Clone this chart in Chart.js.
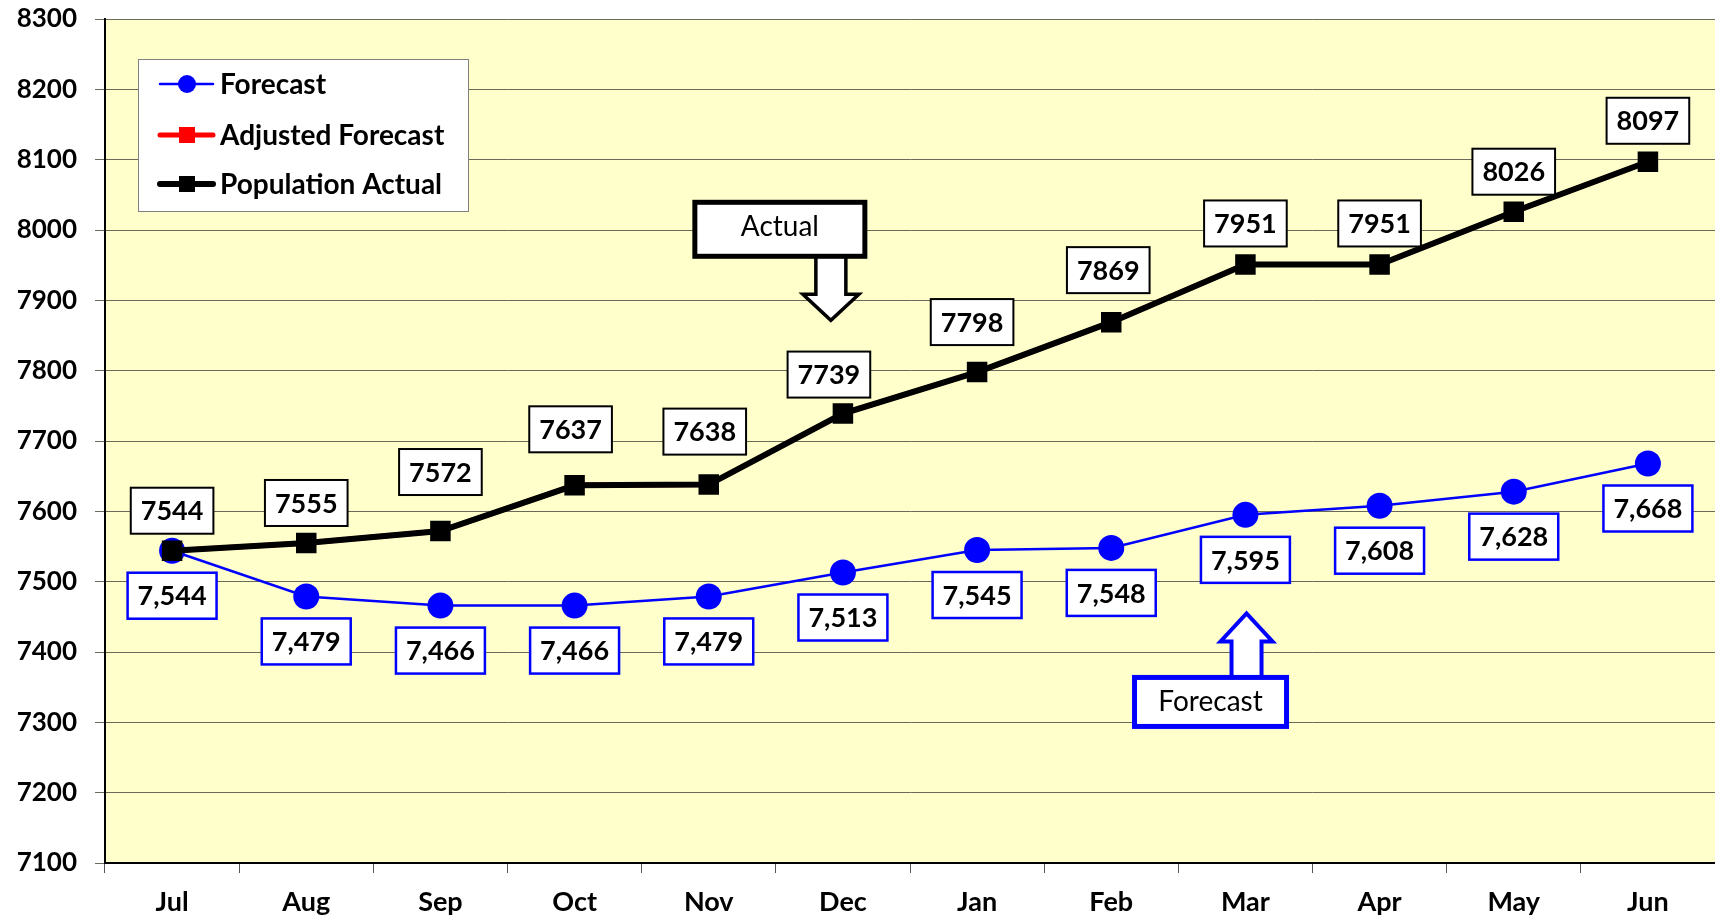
<!DOCTYPE html>
<html>
<head>
<meta charset="utf-8">
<script src="https://cdn.jsdelivr.net/npm/chart.js@4.4.1/dist/chart.umd.min.js"></script>
<style>
  html, body { margin: 0; padding: 0; background: #ffffff; }
  #wrap { width: 1715px; height: 922px; }
</style>
</head>
<body>
<div id="wrap"><canvas id="c" width="1715" height="922"></canvas></div>
<script>
const months = ['Jul', 'Aug', 'Sep', 'Oct', 'Nov', 'Dec', 'Jan', 'Feb', 'Mar', 'Apr', 'May', 'Jun'];
const forecast = [7544, 7479, 7466, 7466, 7479, 7513, 7545, 7548, 7595, 7608, 7628, 7668];
const adjustedForecast = [7544, 7555, 7572, 7637, 7638, 7739, 7798, 7869, 7951, 7951, 8026, 8097];
const populationActual = [7544, 7555, 7572, 7637, 7638, 7739, 7798, 7869, 7951, 7951, 8026, 8097];
const yMin = 7100;
const yMax = 8300;
const yStep = 100;

const FONT = 'Lato, "Open Sans", "DejaVu Sans", sans-serif';

// label placement (pixels relative to point) for actual labels
const actualLabelDy = [-40, -40, -59, -56, -53, -39, -50, -52, -41, -41, -40, -41];
const actualLabelDx = [0, 0, 0, -4, -4, -14, -5, -3, 0, 0, 0, 0];
const forecastLabelDy = 45;

function roundBox(ctx, cx, cy, w, h, stroke, lw) {
  ctx.save();
  ctx.fillStyle = '#ffffff';
  ctx.fillRect(cx - w / 2, cy - h / 2, w, h);
  ctx.lineWidth = lw;
  ctx.strokeStyle = stroke;
  ctx.strokeRect(cx - w / 2, cy - h / 2, w, h);
  ctx.restore();
}

const decor = {
  id: 'decor',
  beforeDraw(chart) {
    const { ctx, chartArea: a } = chart;
    ctx.save();
    ctx.fillStyle = '#FFFFCC';
    ctx.fillRect(a.left, a.top, a.right - a.left, a.bottom - a.top);
    ctx.restore();
  },
  afterDatasetsDraw(chart) {
    const { ctx, chartArea: a, scales } = chart;
    const xs = scales.x, ys = scales.y;

    // data labels
    ctx.save();
    ctx.font = 'bold 27px ' + FONT;
    ctx.textAlign = 'center';
    ctx.textBaseline = 'middle';
    const metaA = chart.getDatasetMeta(2);
    metaA.data.forEach((pt, i) => {
      const txt = String(populationActual[i]);
      const w = ctx.measureText(txt).width + 20;
      const cx = pt.x + actualLabelDx[i];
      const cy = pt.y + actualLabelDy[i];
      roundBox(ctx, cx, cy, w, 46, '#000000', 2);
      ctx.fillStyle = '#000000';
      ctx.fillText(txt, cx, cy + 1);
    });
    const metaF = chart.getDatasetMeta(0);
    metaF.data.forEach((pt, i) => {
      const txt = forecast[i].toLocaleString('en-US');
      const w = ctx.measureText(txt).width + 20;
      const cx = pt.x;
      const cy = pt.y + forecastLabelDy;
      roundBox(ctx, cx, cy, w, 46, '#0000FF', 2.5);
      ctx.fillStyle = '#000000';
      ctx.fillText(txt, cx, cy + 1);
    });
    ctx.restore();

    // "Actual" callout
    ctx.save();
    {
      const cx = xs.getPixelForValue(4.53);
      const cy = ys.getPixelForValue(8001);
      const w = 170, h = 54;
      const ax = cx + 51;
      const top = cy + h / 2;
      ctx.beginPath();
      ctx.moveTo(ax - 15, top);
      ctx.lineTo(ax - 15, top + 38);
      ctx.lineTo(ax - 28, top + 38);
      ctx.lineTo(ax, top + 64);
      ctx.lineTo(ax + 28, top + 38);
      ctx.lineTo(ax + 15, top + 38);
      ctx.lineTo(ax + 15, top);
      ctx.closePath();
      ctx.fillStyle = '#ffffff';
      ctx.fill();
      ctx.lineWidth = 3.5;
      ctx.strokeStyle = '#000000';
      ctx.lineJoin = 'miter';
      ctx.stroke();
      roundBox(ctx, cx, cy, w, h, '#000000', 5);
      ctx.font = '28px ' + FONT;
      ctx.fillStyle = '#000000';
      ctx.textAlign = 'center';
      ctx.textBaseline = 'middle';
      ctx.fillText('Actual', cx, cy - 2);
    }
    // "Forecast" callout
    {
      const cx = xs.getPixelForValue(7.74);
      const cy = ys.getPixelForValue(7329);
      const w = 152, h = 49;
      const ax = cx + 36;
      const bot = cy - h / 2;
      ctx.beginPath();
      ctx.moveTo(ax - 15, bot);
      ctx.lineTo(ax - 15, bot - 36);
      ctx.lineTo(ax - 26, bot - 36);
      ctx.lineTo(ax, bot - 64);
      ctx.lineTo(ax + 26, bot - 36);
      ctx.lineTo(ax + 15, bot - 36);
      ctx.lineTo(ax + 15, bot);
      ctx.closePath();
      ctx.fillStyle = '#ffffff';
      ctx.fill();
      ctx.lineWidth = 4;
      ctx.strokeStyle = '#0000FF';
      ctx.stroke();
      roundBox(ctx, cx, cy, w, h, '#0000FF', 5);
      ctx.font = '28px ' + FONT;
      ctx.fillStyle = '#000000';
      ctx.textAlign = 'center';
      ctx.textBaseline = 'middle';
      ctx.fillText('Forecast', cx, cy);
    }
    ctx.restore();

    // legend
    ctx.save();
    {
      const lx = a.left + 33, ly = a.top + 40, lw = 330, lh = 152;
      ctx.fillStyle = '#ffffff';
      ctx.fillRect(lx, ly, lw, lh);
      ctx.lineWidth = 1;
      ctx.strokeStyle = '#808080';
      ctx.strokeRect(lx + 0.5, ly + 0.5, lw, lh);
      const items = [
        { ds: chart.data.datasets[0], y: ly + 25 },
        { ds: chart.data.datasets[1], y: ly + 76 },
        { ds: chart.data.datasets[2], y: ly + 125 }
      ];
      items.forEach(({ ds, y }) => {
        ctx.strokeStyle = ds.borderColor;
        ctx.lineWidth = ds.borderWidth;
        ctx.lineCap = 'round';
        ctx.beginPath();
        ctx.moveTo(lx + 22, y);
        ctx.lineTo(lx + 75, y);
        ctx.stroke();
        ctx.fillStyle = ds.pointBackgroundColor;
        ctx.beginPath();
        if (ds.pointStyle === 'circle') {
          ctx.arc(lx + 49, y, 9, 0, Math.PI * 2);
        } else {
          ctx.rect(lx + 41, y - 8, 16, 16);
        }
        ctx.fill();
        ctx.font = 'bold 28px ' + FONT;
        ctx.fillStyle = '#000000';
        ctx.textAlign = 'left';
        ctx.textBaseline = 'middle';
        ctx.fillText(ds.label, lx + 82, y + 1);
      });
    }
    ctx.restore();
  }
};

new Chart(document.getElementById('c'), {
  type: 'line',
  data: {
    labels: months,
    datasets: [
      {
        label: 'Forecast',
        data: forecast,
        borderColor: '#0000FF',
        backgroundColor: '#0000FF',
        pointBackgroundColor: '#0000FF',
        pointBorderColor: '#0000FF',
        borderWidth: 2.5,
        pointStyle: 'circle',
        pointRadius: 13,
        pointBorderWidth: 0,
        tension: 0,
        order: 2
      },
      {
        label: 'Adjusted Forecast',
        data: adjustedForecast,
        borderColor: '#FF0000',
        backgroundColor: '#FF0000',
        pointBackgroundColor: '#FF0000',
        pointBorderColor: '#FF0000',
        borderWidth: 5,
        pointStyle: 'rect',
        pointRadius: 13,
        pointBorderWidth: 0,
        tension: 0,
        order: 1
      },
      {
        label: 'Population Actual',
        data: populationActual,
        borderColor: '#000000',
        backgroundColor: '#000000',
        pointBackgroundColor: '#000000',
        pointBorderColor: '#000000',
        borderWidth: 6,
        pointStyle: 'rect',
        pointRadius: 14.5,
        pointBorderWidth: 0,
        tension: 0,
        order: 0
      }
    ]
  },
  options: {
    responsive: false,
    animation: false,
    devicePixelRatio: 1,
    layout: { autoPadding: false, padding: { top: 19, right: 0, left: 0, bottom: 0 } },
    plugins: {
      legend: { display: false },
      tooltip: { enabled: false }
    },
    scales: {
      x: {
        offset: true,
        grid: {
          offset: true,
          drawOnChartArea: false,
          drawTicks: true,
          tickLength: 10,
          color: '#555555',
          lineWidth: 1
        },
        border: { color: '#000000', width: 2 },
        ticks: {
          color: '#000000',
          font: { family: FONT, size: 27, weight: 'bold' },
          padding: 13,
          maxRotation: 0
        },
        afterFit(scale) {
          scale.height = 59;
          scale.paddingLeft = 0;
          scale.paddingRight = 0;
        }
      },
      y: {
        min: yMin,
        max: yMax,
        grid: {
          color: '#6a6a5a',
          lineWidth: 1,
          drawTicks: true,
          tickLength: 10
        },
        border: { color: '#000000', width: 2 },
        ticks: {
          stepSize: yStep,
          color: '#000000',
          font: { family: FONT, size: 26, weight: 'bold' },
          padding: 18,
          callback: (v) => String(v)
        },
        afterFit(scale) {
          scale.width = 105;
          scale.paddingTop = 0;
          scale.paddingBottom = 0;
        }
      }
    }
  },
  plugins: [decor]
});
</script>
</body>
</html>
